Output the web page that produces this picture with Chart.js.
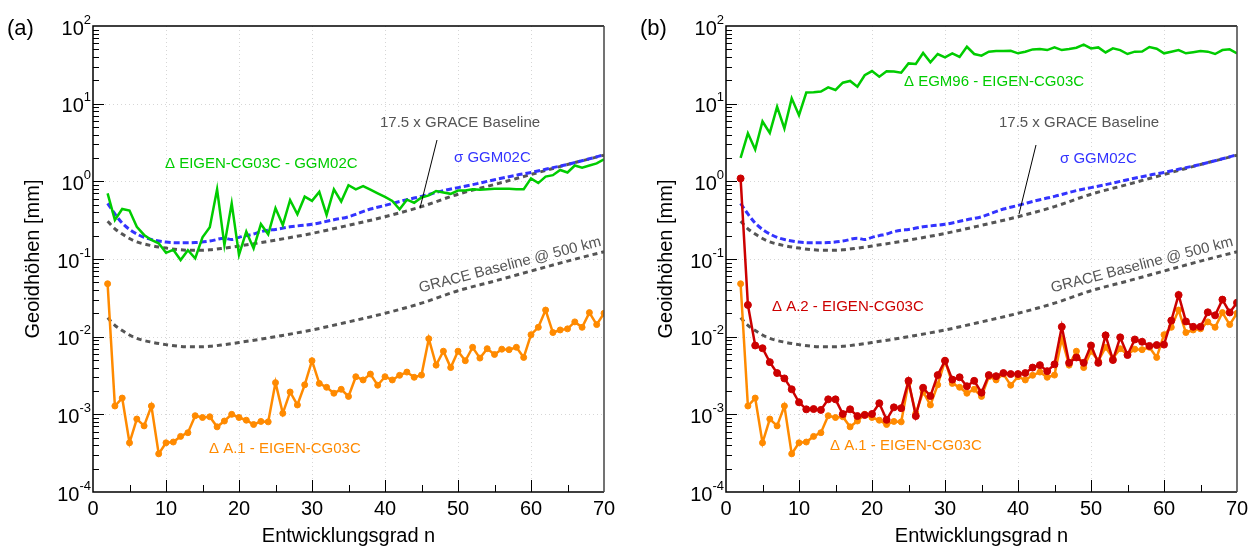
<!DOCTYPE html>
<html>
<head>
<meta charset="utf-8">
<script src="https://cdn.jsdelivr.net/npm/chart.js@4.4.1/dist/chart.umd.min.js"></script>
<style>
  body { margin: 0; background: #fff; }
  #wrap { position: relative; width: 1257px; height: 549px; }
  canvas { position: absolute; top: 0; }
</style>
</head>
<body>
<div id="wrap">
  <canvas id="panelA" width="624" height="549" style="left:0"></canvas>
  <canvas id="panelB" width="624" height="549" style="left:633px"></canvas>
</div>
<script>
const FONT = '"Liberation Sans", Arial, sans-serif';

// degree n of the spherical harmonic expansion
const degrees = [2, 3, 4, 5, 6, 7, 8, 9, 10, 11, 12, 13, 14, 15, 16, 17, 18, 19, 20,
  21, 22, 23, 24, 25, 26, 27, 28, 29, 30, 31, 32, 33, 34, 35, 36, 37, 38, 39, 40,
  41, 42, 43, 44, 45, 46, 47, 48, 49, 50, 51, 52, 53, 54, 55, 56, 57, 58, 59, 60,
  61, 62, 63, 64, 65, 66, 67, 68, 69, 70];

// Δ A.1 - EIGEN-CG03C [mm]
const diffA1 = [0.048, 0.00128, 0.00162, 0.00043, 0.00087, 0.00071, 0.00128, 0.00031, 0.00043,
  0.00044, 0.00052, 0.00058, 0.00096, 0.00091, 0.00093, 0.00069, 0.00082, 0.00100, 0.00091,
  0.00084, 0.00074, 0.00081, 0.00080, 0.00256, 0.00103, 0.00194, 0.00132, 0.0024, 0.0049,
  0.0025, 0.00223, 0.00187, 0.0021, 0.0017, 0.00305, 0.00277, 0.0033, 0.00237, 0.00305,
  0.00277, 0.00318, 0.0035, 0.0030, 0.0032, 0.0094, 0.0043, 0.0065, 0.0040, 0.0065,
  0.0049, 0.0073, 0.0053, 0.0070, 0.0059, 0.0069, 0.0068, 0.0073, 0.0054, 0.0106,
  0.0132, 0.022, 0.0113, 0.0122, 0.0126, 0.0155, 0.0132, 0.0204, 0.0143, 0.020];

// Δ A.2 - EIGEN-CG03C [mm]
const diffA2 = [1.09, 0.0256, 0.0077, 0.0071, 0.0047, 0.0034, 0.0029, 0.0021, 0.00143,
  0.00116, 0.00117, 0.00114, 0.00156, 0.00156, 0.00101, 0.00116, 0.00095, 0.00098, 0.00101,
  0.00139, 0.00085, 0.00123, 0.0012, 0.0027, 0.00095, 0.0022, 0.00172, 0.0032, 0.0049,
  0.0028, 0.0030, 0.0023, 0.0027, 0.0019, 0.0032, 0.0031, 0.0034, 0.0033, 0.0033,
  0.0034, 0.0040, 0.0043, 0.0036, 0.0044, 0.0134, 0.0046, 0.0054, 0.0046, 0.0077,
  0.0046, 0.0104, 0.0050, 0.0098, 0.0058, 0.0092, 0.0086, 0.0076, 0.0078, 0.0079,
  0.0161, 0.0344, 0.0157, 0.0134, 0.0134, 0.0206, 0.0188, 0.030, 0.0205, 0.0274];

// Δ EIGEN-CG03C - GGM02C [mm]
const diffEigenGgm = [0.70, 0.318, 0.44, 0.42, 0.26, 0.204, 0.176, 0.159, 0.12,
  0.131, 0.097, 0.13, 0.102, 0.19, 0.256, 0.79, 0.151, 0.52, 0.113,
  0.225, 0.137, 0.282, 0.208, 0.45, 0.274, 0.575, 0.377, 0.635, 0.56,
  0.73, 0.37, 0.79, 0.55, 0.89, 0.79, 0.87, 0.78, 0.70, 0.63,
  0.56, 0.436, 0.58, 0.53, 0.62, 0.66, 0.75, 0.72, 0.69, 0.76,
  0.76, 0.79, 0.78, 0.79, 0.80, 0.80, 0.80, 0.79, 0.79, 1.09,
  0.95, 1.15, 1.2, 1.4, 1.3, 1.6, 1.5, 1.6, 1.7, 1.92];

// Δ EGM96 - EIGEN-CG03C [mm]
const diffEgm96 = [2.0, 4.15, 2.57, 5.9, 4.2, 9.1, 4.8, 11.7, 7.1,
  13.9, 14, 14.3, 16.2, 15, 18.6, 19.6, 16.5, 23.2, 26.3,
  22.2, 26.1, 26, 25, 33, 32.5, 45, 34, 43.6, 39.5,
  44.5, 40, 54, 43.6, 41.5, 46.7, 47.5, 47.5, 48, 44.5,
  46.7, 50, 50.5, 49, 53, 49, 50.5, 52.5, 57.5, 51.5,
  53, 45.7, 51.5, 49, 43.6, 46.7, 47, 53.7, 51, 44.5,
  46.7, 49, 44.5, 46, 47.5, 46.7, 43.6, 49, 50, 44.5];

// GRACE baseline error at 500 km altitude [mm]
const baseDegrees = [2, 3, 4, 5, 6, 8, 10, 12, 14, 16, 18, 20, 25, 30, 35, 40, 45, 50, 55, 60, 65, 70];
const graceBaseline = [0.0175, 0.014, 0.012, 0.0105, 0.0095, 0.0085, 0.0079, 0.0075, 0.0074, 0.0075, 0.0079,
  0.0084, 0.0100, 0.0122, 0.0155, 0.020, 0.027, 0.039, 0.052, 0.070, 0.094, 0.124];
const GRACE_FACTOR = 17.5;

// formal error σ of GGM02C [mm]
const sigmaDegrees = [2, 3, 4, 5, 6, 7, 8, 10, 12, 14, 16, 18, 19, 20, 21, 22, 23, 24, 25, 27, 30,
  33, 35, 38, 40, 43, 45, 48, 50, 53, 55, 58, 60, 63, 65, 68, 70];
const sigmaGgm02c = [0.52, 0.38, 0.29, 0.24, 0.21, 0.19, 0.178, 0.165, 0.162, 0.163, 0.17, 0.185, 0.178,
  0.19, 0.2, 0.21, 0.225, 0.235, 0.24, 0.26, 0.28, 0.32, 0.35, 0.44, 0.49, 0.58, 0.64, 0.76, 0.83,
  0.95, 1.05, 1.2, 1.3, 1.5, 1.65, 1.95, 2.2];

const xTicks = [0, 10, 20, 30, 40, 50, 60, 70];
const yExponents = [-4, -3, -2, -1, 0, 1, 2];

const GREEN = '#00cc00', BLUE = '#3333ff', GRAY = '#555555', ORANGE = '#ff8a00', RED = '#cc0000';

function pts(xs, ys) {
  return xs.map((x, i) => ({ x: x, y: ys[i] }));
}

function solid(ys, color, radius) {
  return {
    data: pts(degrees, ys), borderColor: color, backgroundColor: color,
    borderWidth: 2.5, pointRadius: radius, pointBorderWidth: 1,
    pointBorderColor: color, pointBackgroundColor: color, tension: 0
  };
}

function dashed(xs, ys, color, dash) {
  return {
    data: pts(xs, ys), borderColor: color, borderWidth: 3, borderDash: dash,
    pointRadius: 0, tension: 0.4, cubicInterpolationMode: 'monotone'
  };
}

function decoPlugin(deco) {
  return {
    id: 'deco',
    beforeDatasetsDraw(chart) {
      const { ctx, chartArea: a, scales: { x, y } } = chart;
      ctx.save();
      ctx.strokeStyle = '#d6d6d6';
      ctx.lineWidth = 1;
      ctx.setLineDash([1, 3]);
      ctx.beginPath();
      xTicks.slice(1, -1).forEach(v => {
        const px = Math.round(x.getPixelForValue(v)) + 0.5;
        ctx.moveTo(px, a.top); ctx.lineTo(px, a.bottom);
      });
      yExponents.slice(1, -1).forEach(e => {
        const py = Math.round(y.getPixelForValue(Math.pow(10, e))) + 0.5;
        ctx.moveTo(a.left, py); ctx.lineTo(a.right, py);
      });
      ctx.stroke();
      ctx.restore();
    },
    afterDatasetsDraw(chart) {
      const { ctx, chartArea: a, scales: { x, y } } = chart;
      ctx.save();

      // tick marks pointing into the plot
      ctx.strokeStyle = '#000';
      ctx.lineWidth = 1;
      ctx.beginPath();
      for (let v = 5; v < 70; v += 5) {
        const px = Math.round(x.getPixelForValue(v)) + 0.5;
        ctx.moveTo(px, a.bottom); ctx.lineTo(px, a.bottom - (v % 10 === 0 ? 12 : 7));
      }
      for (let e = -4; e < 2; e++) {
        for (let m = 1; m < 10; m++) {
          if (e === -4 && m === 1) continue;
          const py = Math.round(y.getPixelForValue(m * Math.pow(10, e))) + 0.5;
          ctx.moveTo(a.left, py); ctx.lineTo(a.left + (m === 1 ? 11 : 6), py);
        }
      }
      ctx.stroke();

      // frame
      ctx.lineWidth = 1.5;
      ctx.strokeStyle = '#000';
      ctx.beginPath();
      ctx.moveTo(a.right, a.top); ctx.lineTo(a.left, a.top);
      ctx.lineTo(a.left, a.bottom); ctx.lineTo(a.right, a.bottom);
      ctx.stroke();
      ctx.strokeStyle = '#444';
      ctx.beginPath();
      ctx.moveTo(a.right, a.top); ctx.lineTo(a.right, a.bottom);
      ctx.stroke();

      // decade labels 10^k
      ctx.fillStyle = '#000';
      ctx.textAlign = 'left';
      yExponents.forEach(e => {
        const py = y.getPixelForValue(Math.pow(10, e));
        const exp = String(e);
        ctx.font = '13px ' + FONT;
        const we = ctx.measureText(exp).width;
        ctx.font = '20px ' + FONT;
        const wb = ctx.measureText('10').width;
        const right = a.left - 2;
        ctx.textBaseline = 'middle';
        ctx.fillText('10', right - we - wb, py + 3);
        ctx.font = '13px ' + FONT;
        ctx.fillText(exp, right - we, py - 6);
      });

      // axis titles and panel letter
      ctx.font = '20px ' + FONT;
      ctx.textAlign = 'center';
      ctx.textBaseline = 'middle';
      ctx.fillText('Entwicklungsgrad n', (a.left + a.right) / 2, 536);
      ctx.save();
      ctx.translate(33, (a.top + a.bottom) / 2);
      ctx.rotate(-Math.PI / 2);
      ctx.fillText('Geoidhöhen [mm]', 0, 0);
      ctx.restore();
      ctx.font = '22px ' + FONT;
      ctx.textAlign = 'left';
      ctx.fillText(deco.letter, 7, 29);

      // leader from the 17.5 x label to its curve
      ctx.strokeStyle = '#000';
      ctx.lineWidth = 1;
      ctx.beginPath();
      ctx.moveTo(deco.leader[0], deco.leader[1]);
      ctx.lineTo(deco.leader[2], deco.leader[3]);
      ctx.stroke();

      // curve labels
      ctx.font = '15px ' + FONT;
      deco.notes.forEach(n => {
        ctx.save();
        ctx.fillStyle = n.color;
        ctx.translate(n.x, n.y);
        if (n.rot) {
          ctx.rotate(n.rot * Math.PI / 180);
          ctx.textAlign = 'center';
        } else {
          ctx.textAlign = 'left';
        }
        ctx.fillText(n.text, 0, 0);
        ctx.restore();
      });
      ctx.restore();
    }
  };
}

function makePanel(id, datasets, deco) {
  return new Chart(document.getElementById(id), {
    type: 'line',
    data: { datasets: datasets },
    options: {
      responsive: false,
      animation: false,
      devicePixelRatio: 1,
      layout: { padding: { top: 26, right: 20, bottom: 0, left: 0 } },
      plugins: { legend: { display: false }, tooltip: { enabled: false } },
      scales: {
        x: {
          type: 'linear', min: 0, max: 70,
          afterBuildTicks: s => { s.ticks = xTicks.map(v => ({ value: v })); },
          afterFit: s => { s.height = 57; },
          grid: { display: false, drawTicks: false },
          border: { display: false },
          ticks: { font: { size: 20, family: FONT }, color: '#000', padding: 5, maxRotation: 0, autoSkip: false }
        },
        y: {
          type: 'logarithmic', min: 1e-4, max: 1e2,
          afterFit: s => { s.width = 93; },
          grid: { display: false, drawTicks: false },
          border: { display: false },
          ticks: { display: false }
        }
      }
    },
    plugins: [decoPlugin(deco)]
  });
}

const graceScaled = graceBaseline.map(v => v * GRACE_FACTOR);

makePanel('panelA', [
  solid(diffEigenGgm, GREEN, 0),
  solid(diffA1, ORANGE, 3),
  dashed(sigmaDegrees, sigmaGgm02c, BLUE, [6, 3]),
  dashed(baseDegrees, graceScaled, GRAY, [5, 4]),
  dashed(baseDegrees, graceBaseline, GRAY, [5, 4])
], {
  letter: '(a)',
  leader: [437, 140, 420, 208],
  notes: [
    { text: 'Δ EIGEN-CG03C - GGM02C', x: 165, y: 164, color: GREEN },
    { text: '17.5 x GRACE Baseline', x: 380, y: 123, color: GRAY },
    { text: 'σ GGM02C', x: 454, y: 158, color: BLUE },
    { text: 'GRACE Baseline @ 500 km', x: 510, y: 265, color: GRAY, rot: -14.5 },
    { text: 'Δ A.1 - EIGEN-CG03C', x: 209, y: 449, color: ORANGE }
  ]
});

makePanel('panelB', [
  solid(diffA2, RED, 3.5),
  solid(diffA1, ORANGE, 3),
  solid(diffEgm96, GREEN, 0),
  dashed(sigmaDegrees, sigmaGgm02c, BLUE, [6, 3]),
  dashed(baseDegrees, graceScaled, GRAY, [5, 4]),
  dashed(baseDegrees, graceBaseline, GRAY, [5, 4])
], {
  letter: '(b)',
  leader: [403, 145, 386, 214],
  notes: [
    { text: 'Δ EGM96 - EIGEN-CG03C', x: 271, y: 82, color: GREEN },
    { text: '17.5 x GRACE Baseline', x: 366, y: 123, color: GRAY },
    { text: 'σ GGM02C', x: 427, y: 159, color: BLUE },
    { text: 'GRACE Baseline @ 500 km', x: 509, y: 265, color: GRAY, rot: -14.5 },
    { text: 'Δ A.2 - EIGEN-CG03C', x: 139, y: 307, color: RED },
    { text: 'Δ A.1 - EIGEN-CG03C', x: 197, y: 446, color: ORANGE }
  ]
});
</script>
</body>
</html>
